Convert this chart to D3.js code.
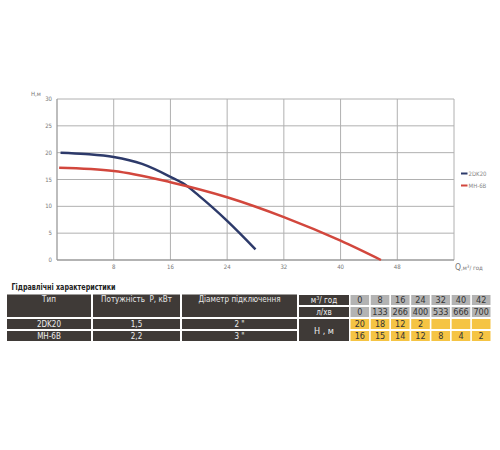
<!DOCTYPE html>
<html><head><meta charset="utf-8">
<script src="https://cdn.jsdelivr.net/npm/d3@7"></script>
<style>
html,body{margin:0;padding:0;background:#fff;}
svg{display:block;}
text{white-space:pre;}
.narrow{font-family:"Liberation Sans Narrow","DejaVu Sans Condensed","Arial Narrow","Liberation Sans",sans-serif;font-stretch:condensed;}
</style></head>
<body>
<svg id="c" width="500" height="450"></svg>
<script>
// ---- chart data ----
const seriesNames = ["2DK20", "MH-6B"];
const seriesColors = ["#2d3a6a", "#d2473d"];
const curve2DK20 = [[0.5,20],[4,19.75],[8,19.2],[12,17.9],[16,15.5],[18,14.1],[20,12],[24,7.3],[28,2]];
const curveMH6B = [[0.3,17.2],[8,16.6],[16,14.5],[24,11.7],[32,8],[40,3.6],[45.7,0]];
const xTicks = [8,16,24,32,40,48];
const yTicks = [0,5,10,15,20,25,30];

// ---- table data ----
const tableTitle = "Гідравлічні характеристики";
const headerCols = ["Тип", "Потужність  Р, кВт", "Діаметр підключення"];
const types = ["2DK20", "MH-6B"];
const powers = ["1,5", "2,2"];
const diameters = ["2 \"", "3 \""];
const flowM3 = ["0","8","16","24","32","40","42"];
const flowLmin = ["0","133","266","400","533","666","700"];
const head2DK20 = ["20","18","12","2","","",""];
const headMH6B = ["16","15","14","12","8","4","2"];

const svg = d3.select("#c");
const L=57, R=454, T=99, B=260;
const x = d3.scaleLinear().domain([0,56]).range([L,R]);
const y = d3.scaleLinear().domain([0,30]).range([B,T]);

// grid
const g = svg.append("g");
g.selectAll(".gx").data(xTicks.concat([56])).enter().append("line")
  .attr("x1",d=>x(d)).attr("x2",d=>x(d)).attr("y1",T).attr("y2",B)
  .attr("stroke","#b0b0b0").attr("stroke-width",1);
g.selectAll(".gy").data(yTicks.filter(d=>d>0)).enter().append("line")
  .attr("x1",L).attr("x2",R).attr("y1",d=>y(d)).attr("y2",d=>y(d))
  .attr("stroke","#b0b0b0").attr("stroke-width",1);
// axes lines
g.append("line").attr("x1",L).attr("x2",L).attr("y1",T).attr("y2",B).attr("stroke","#9a9a9a").attr("stroke-width",1.3);
g.append("line").attr("x1",L).attr("x2",R).attr("y1",B).attr("y2",B).attr("stroke","#9a9a9a").attr("stroke-width",1.3);

// tick labels
g.selectAll(".ty").data(yTicks).enter().append("text")
  .attr("x",52).attr("y",d=>y(d)+2).attr("text-anchor","end")
  .attr("font-size",6).attr("fill","#777").attr("class","narrow").text(d=>d);
g.selectAll(".tx").data(xTicks).enter().append("text")
  .attr("x",d=>x(d)).attr("y",269).attr("text-anchor","middle")
  .attr("font-size",6).attr("fill","#777").attr("class","narrow").text(d=>d);
g.append("text").attr("x",31).attr("y",96).attr("font-size",6).attr("fill","#777").attr("class","narrow").text("Н,м");
const ql = g.append("text").attr("x",455).attr("y",269.5).attr("fill","#777").attr("class","narrow");
ql.append("tspan").attr("font-size",8.5).text("Q");
ql.append("tspan").attr("font-size",6).text(",м");
ql.append("tspan").attr("font-size",4.5).attr("dy",-2).text("3");
ql.append("tspan").attr("font-size",6).attr("dy",2).text("/ год");

// curves
const line = d3.line().x(d=>x(d[0])).y(d=>y(d[1])).curve(d3.curveMonotoneX);
[curve2DK20, curveMH6B].forEach((c,i)=>{
  g.append("path").attr("d",line(c)).attr("fill","none")
    .attr("stroke",seriesColors[i]).attr("stroke-width",2.5);
});

// legend
seriesNames.forEach((n,i)=>{
  const ly = 173.5 + i*12;
  g.append("line").attr("x1",461).attr("x2",467.5).attr("y1",ly).attr("y2",ly)
    .attr("stroke",seriesColors[i]).attr("stroke-width",2);
  g.append("text").attr("x",468.5).attr("y",ly+2).attr("font-size",6).attr("fill","#888").attr("class","narrow").text(n);
});

// ---- table ----
const t = svg.append("g").attr("class","narrow");
const dark="#3f3a37", grey="#b3b3b3", yel="#f5c444";
t.append("text").attr("x",11.5).attr("y",290).attr("font-size",9.5).attr("font-weight","bold").attr("fill","#222")
  .attr("textLength",104).attr("lengthAdjust","spacingAndGlyphs").text(tableTitle);

const cols = [[7,91],[93,180],[182,297]];
const rowY = [[295,305],[307,317],[319,329],[331,341]];
// header merged
cols.forEach((c,i)=>{
  t.append("rect").attr("x",c[0]).attr("y",294.5).attr("width",c[1]-c[0]).attr("height",22.5).attr("fill",dark);
  t.append("text").attr("x",(c[0]+c[1])/2).attr("y",302).attr("text-anchor","middle")
    .attr("font-size",8).attr("fill","#e8e8e8").text(headerCols[i]);
});
// body rows
types.forEach((tp,r)=>{
  const vals=[tp, powers[r], diameters[r]];
  const ry=rowY[2+r];
  cols.forEach((c,i)=>{
    t.append("rect").attr("x",c[0]).attr("y",ry[0]).attr("width",c[1]-c[0]).attr("height",ry[1]-ry[0]).attr("fill",dark);
    t.append("text").attr("x",(c[0]+c[1])/2).attr("y",ry[1]-2.3).attr("text-anchor","middle")
      .attr("font-size",8).attr("fill","#eee").text(vals[i]);
  });
});
// unit column
const uc=[299,349];
t.append("rect").attr("x",uc[0]).attr("y",rowY[0][0]).attr("width",uc[1]-uc[0]).attr("height",10).attr("fill",dark);
const ut = t.append("text").attr("x",(uc[0]+uc[1])/2).attr("y",rowY[0][1]-2.3).attr("text-anchor","middle").attr("font-size",8).attr("fill","#eee");
ut.append("tspan").text("м");
ut.append("tspan").attr("font-size",5.5).attr("dy",-3).text("3");
ut.append("tspan").attr("dy",3).text("/ год");
t.append("rect").attr("x",uc[0]).attr("y",rowY[1][0]).attr("width",uc[1]-uc[0]).attr("height",10).attr("fill",dark);
t.append("text").attr("x",(uc[0]+uc[1])/2).attr("y",rowY[1][1]-2.3).attr("text-anchor","middle").attr("font-size",8).attr("fill","#eee").text("л/хв");
t.append("rect").attr("x",uc[0]).attr("y",rowY[2][0]).attr("width",uc[1]-uc[0]).attr("height",rowY[3][1]-rowY[2][0]).attr("fill",dark);
t.append("text").attr("x",(uc[0]+uc[1])/2).attr("y",333.5).attr("text-anchor","middle").attr("font-size",9).attr("fill","#eee").text("Н , м");

// value cells
const cx = d3.scaleBand().domain(d3.range(flowM3.length)).range([350.5,490.5]).paddingInner(0.08);
const valueRows=[[flowM3,grey],[flowLmin,grey],[head2DK20,yel],[headMH6B,yel]];
valueRows.forEach((vr,r)=>{
  vr[0].forEach((v,i)=>{
    t.append("rect").attr("x",cx(i)).attr("y",rowY[r][0]).attr("width",cx.bandwidth()).attr("height",rowY[r][1]-rowY[r][0]).attr("fill",vr[1]);
    t.append("text").attr("x",cx(i)+cx.bandwidth()/2).attr("y",rowY[r][1]-1.8).attr("text-anchor","middle")
      .attr("font-size",9).attr("fill","#333").text(v);
  });
});
</script>
</body></html>
